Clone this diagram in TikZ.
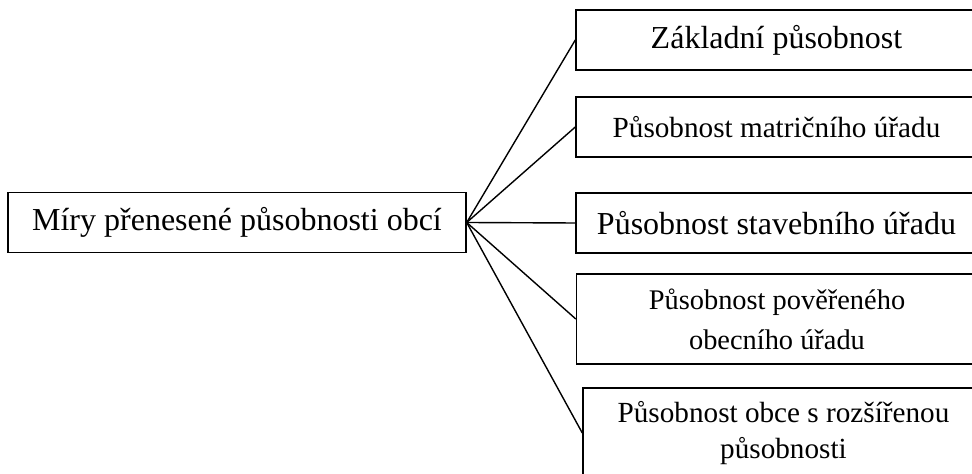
\documentclass[tikz,border=0pt]{standalone}
\usepackage{fontspec}
\setmainfont{Liberation Serif}
\begin{document}
\begin{tikzpicture}[x=0.5pt,y=-0.5pt,line width=0.7pt,
  box/.style={draw,inner sep=0pt,minimum height=30pt,minimum width=200.5pt,align=center},
  big/.style={font=\fontsize{16}{19}\selectfont},
  small/.style={font=\fontsize{14.6}{18}\selectfont}]
\useasboundingbox (0,0) rectangle (972,474);
\clip (0,0) rectangle (972,474);
\node[box,big,minimum width=229pt] (miry) at (237,222.5) {Míry přenesené působnosti obcí};
\node[box,big] (zakladni) at (776.5,40) {Základní působnost};
\node[box,small] (matricni) at (776.5,127) {Působnost matričního úřadu};
\node[box,big] (stavebni) at (776.5,223) {Působnost stavebního úřadu};
\node[box,small,minimum height=45pt,font=\fontsize{14.2}{20}\selectfont] (povereny) at (777,319) {Působnost pověřeného\\obecního úřadu};
\node[box,small,minimum height=45pt] (rozsireny) at (783.5,433) {Působnost obce s rozšířenou\\působnosti};
\foreach \n in {zakladni,matricni,stavebni,povereny,rozsireny}
  \draw (miry.east) -- (\n.west);
\end{tikzpicture}
\end{document}
